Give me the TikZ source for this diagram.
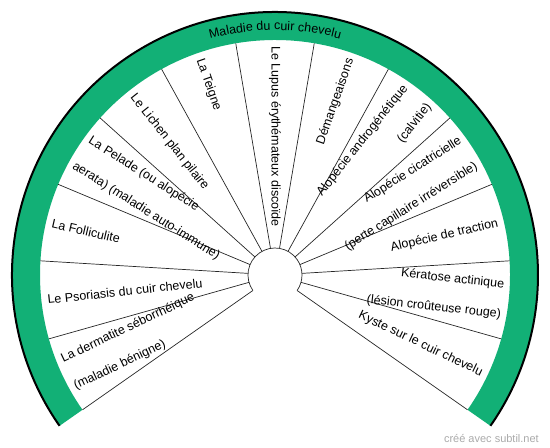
\documentclass[tikz,border=0pt]{standalone}
\usepackage{fontspec}
\setmainfont{Liberation Sans}
\usetikzlibrary{decorations.text}
\definecolor{bandgreen}{RGB}{18,176,118}
\definecolor{markgray}{RGB}{170,170,170}
\newcommand\segfont{\fontsize{12.5}{30}\selectfont}
\newcommand\titlefont{\fontsize{12.5}{15}\selectfont}
\tikzset{
  segleft/.style={anchor=west, inner sep=0pt, align=left, font=\segfont},
  segright/.style={anchor=east, inner sep=0pt, align=right, font=\segfont},
  divider/.style={line width=0.7pt, draw=black!85},
}
\newcommand\segL[3]{\node[segleft, rotate=#1+180] (#2) at (#1:229) {#3};}
\newcommand\segR[3]{\node[segright, rotate=#1] (#2) at (#1:229) {#3};}
\begin{document}
\begin{tikzpicture}[x=1pt,y=1pt]
\useasboundingbox (-275,-173) rectangle (275,275);
% green band
\fill[bandgreen] (215:263) arc[start angle=215, end angle=-35, radius=263]
  -- (-35:235) arc[start angle=-35, end angle=215, radius=235] -- cycle;
\draw[line width=2pt] (215:263) arc[start angle=215, end angle=-35, radius=263];
% dividers
\foreach \k in {0,...,13} {
  \pgfmathsetmacro\ang{215-\k*250/13}
  \draw[divider] (\ang:27) -- (\ang:235);
}
% hub
\draw[divider] (215:27) arc[start angle=215, end angle=-35, radius=27];
% title along arc
\path[decorate, decoration={text along path, text align=center,
  text={|\titlefont|Maladie du cuir chevelu}}]
  (125:245) arc[start angle=125, end angle=55, radius=245];
% segment texts
\segL{205.385}{t1}{La dermatite séborrhéique\\(maladie bénigne)}
\segL{186.154}{t2}{Le Psoriasis du cuir chevelu}
\segL{166.923}{t3}{La Folliculite}
\segL{147.692}{t4}{La Pelade (ou alopécie\\aerata) (maladie auto-immune)}
\segL{128.462}{t5}{Le Lichen plan pilaire}
\segL{109.231}{t6}{La Teigne}
\segL{90}{t7}{Le Lupus érythémateux discoïde}
\segR{70.769}{t8}{Démangeaisons}
\segR{51.538}{t9}{Alopécie androgénétique\\(calvitie)}
\segR{32.308}{t10}{Alopécie cicatricielle\\(perte capillaire irréversible)}
\segR{13.077}{t11}{Alopécie de traction}
\segR{-6.154}{t12}{Kératose actinique\\(lésion croûteuse rouge)}
\segR{-25.385}{t13}{Kyste sur le cuir chevelu}
% watermark
\node[anchor=base east, inner sep=0pt, text=markgray, font=\fontsize{11}{13}\selectfont] (mark) at (264,-167) {créé avec subtil.net};
\end{tikzpicture}
\end{document}
